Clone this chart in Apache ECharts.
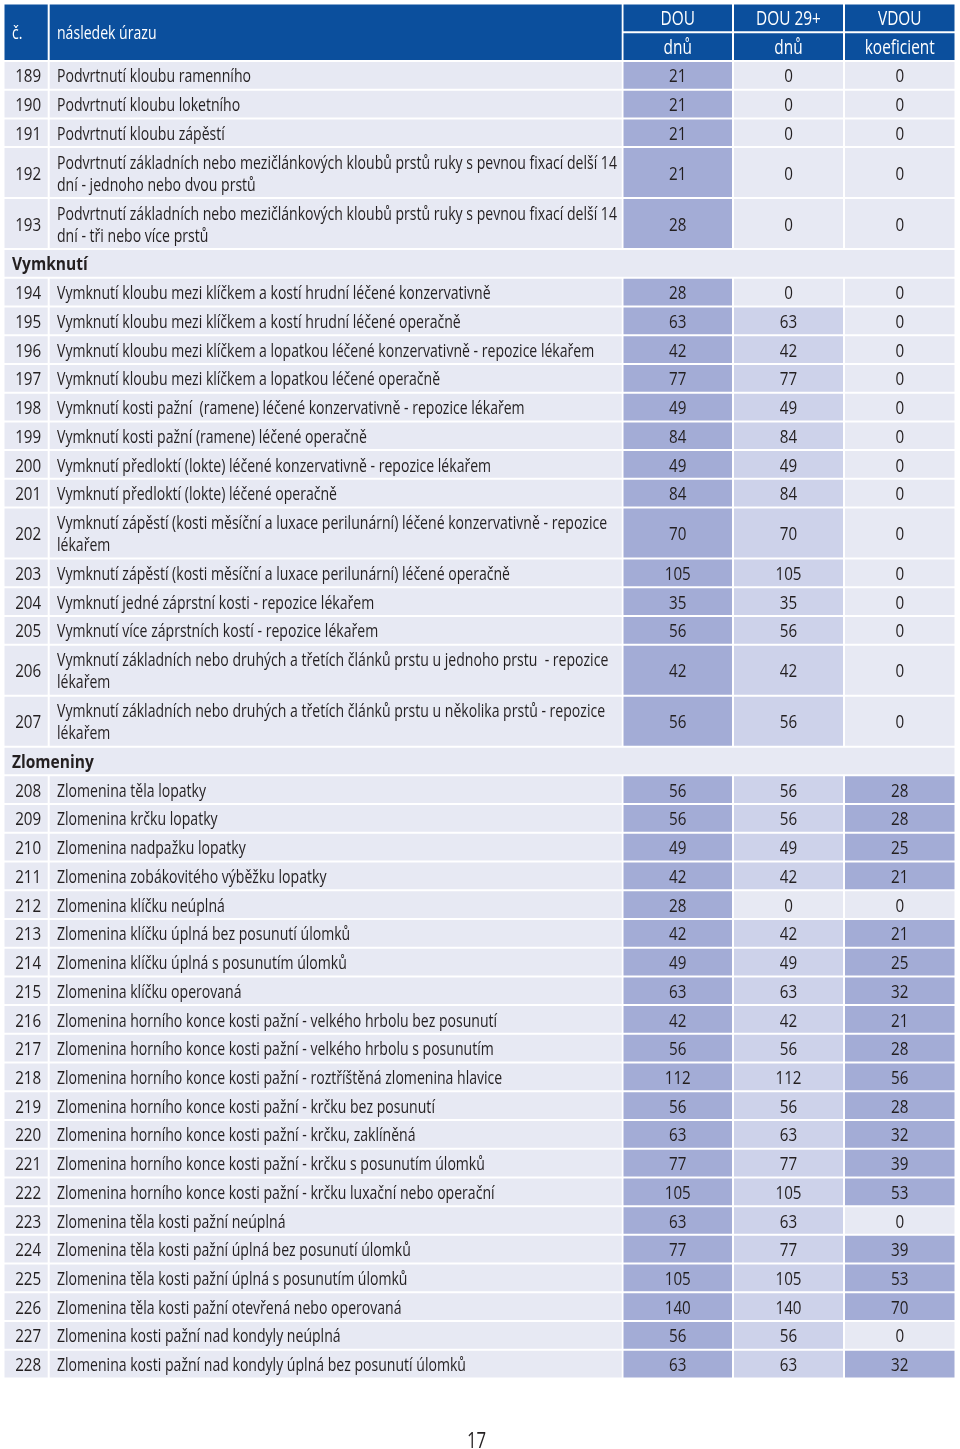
<!DOCTYPE html>
<html><head><meta charset="utf-8">
<script src="https://cdn.jsdelivr.net/npm/echarts@6/dist/echarts.min.js"></script>
<style>html,body{margin:0;padding:0;background:#fff}#c{width:960px;height:1449px}</style>
</head><body><div id="c"></div>
<script>
// ---------- data ----------
const headerLeft = ['č.', 'následek úrazu'];
const headerTop = ['DOU', 'DOU 29+', 'VDOU'];
const headerSub = ['dnů', 'dnů', 'koeficient'];
const sectionTitles = ['Vymknutí', 'Zlomeniny'];
const sectionStartCodes = [194, 208];
const codes = [189,190,191,192,193,194,195,196,197,198,199,200,201,202,203,204,205,206,207,208,209,210,211,212,213,214,215,216,217,218,219,220,221,222,223,224,225,226,227,228];
const injuries = [
  'Podvrtnutí kloubu ramenního',
  'Podvrtnutí kloubu loketního',
  'Podvrtnutí kloubu zápěstí',
  'Podvrtnutí základních nebo mezičlánkových kloubů prstů ruky s pevnou fixací delší 14\ndní - jednoho nebo dvou prstů',
  'Podvrtnutí základních nebo mezičlánkových kloubů prstů ruky s pevnou fixací delší 14\ndní - tři nebo více prstů',
  'Vymknutí kloubu mezi klíčkem a kostí hrudní léčené konzervativně',
  'Vymknutí kloubu mezi klíčkem a kostí hrudní léčené operačně',
  'Vymknutí kloubu mezi klíčkem a lopatkou léčené konzervativně - repozice lékařem',
  'Vymknutí kloubu mezi klíčkem a lopatkou léčené operačně',
  'Vymknutí kosti pažní  (ramene) léčené konzervativně - repozice lékařem',
  'Vymknutí kosti pažní (ramene) léčené operačně',
  'Vymknutí předloktí (lokte) léčené konzervativně - repozice lékařem',
  'Vymknutí předloktí (lokte) léčené operačně',
  'Vymknutí zápěstí (kosti měsíční a luxace perilunární) léčené konzervativně - repozice\nlékařem',
  'Vymknutí zápěstí (kosti měsíční a luxace perilunární) léčené operačně',
  'Vymknutí jedné záprstní kosti - repozice lékařem',
  'Vymknutí více záprstních kostí - repozice lékařem',
  'Vymknutí základních nebo druhých a třetích článků prstu u jednoho prstu  - repozice\nlékařem',
  'Vymknutí základních nebo druhých a třetích článků prstu u několika prstů - repozice\nlékařem',
  'Zlomenina těla lopatky',
  'Zlomenina krčku lopatky',
  'Zlomenina nadpažku lopatky',
  'Zlomenina zobákovitého výběžku lopatky',
  'Zlomenina klíčku neúplná',
  'Zlomenina klíčku úplná bez posunutí úlomků',
  'Zlomenina klíčku úplná s posunutím úlomků',
  'Zlomenina klíčku operovaná',
  'Zlomenina horního konce kosti pažní - velkého hrbolu bez posunutí',
  'Zlomenina horního konce kosti pažní - velkého hrbolu s posunutím',
  'Zlomenina horního konce kosti pažní - roztříštěná zlomenina hlavice',
  'Zlomenina horního konce kosti pažní - krčku bez posunutí',
  'Zlomenina horního konce kosti pažní - krčku, zaklíněná',
  'Zlomenina horního konce kosti pažní - krčku s posunutím úlomků',
  'Zlomenina horního konce kosti pažní - krčku luxační nebo operační',
  'Zlomenina těla kosti pažní neúplná',
  'Zlomenina těla kosti pažní úplná bez posunutí úlomků',
  'Zlomenina těla kosti pažní úplná s posunutím úlomků',
  'Zlomenina těla kosti pažní otevřená nebo operovaná',
  'Zlomenina kosti pažní nad kondyly neúplná',
  'Zlomenina kosti pažní nad kondyly úplná bez posunutí úlomků'
];
const douDays   = [21,21,21,21,28,28,63,42,77,49,84,49,84,70,105,35,56,42,56,56,56,49,42,28,42,49,63,42,56,112,56,63,77,105,63,77,105,140,56,63];
const dou29Days = [0,0,0,0,0,0,63,42,77,49,84,49,84,70,105,35,56,42,56,56,56,49,42,0,42,49,63,42,56,112,56,63,77,105,63,77,105,140,56,63];
const vdouCoef  = [0,0,0,0,0,0,0,0,0,0,0,0,0,0,0,0,0,0,0,28,28,25,21,0,21,25,32,21,28,56,28,32,39,53,0,39,53,70,0,32];
const pageNumber = '17';

// ---------- style / layout ----------
const FONT = "'Open Sans', 'Noto Sans', sans-serif";
const FS = 18.5, SX = 0.76, TEXT_DY = 1.8;
const BLUE = '#0b4f9d', LIGHT = '#e7e9f3', DARK = '#a3acd6', MID = '#cdd2ea', INK = '#231f20';
const COLS = [[4.5, 47.7], [49.7, 621.7], [623.5, 732], [734, 843], [845, 954.5]];
const ROW_PX = 28.72, DOUBLE = 1.775, GAP = 2, TOP = 4.5;

const cells = [];
function cell(col0, col1, y0, y1, opt) {
  cells.push(Object.assign({ x0: COLS[col0][0], x1: COLS[col1][1], y0, y1, color: INK, size: FS, sx: SX }, opt));
}
// header
cell(0, 0, 0, 2, { fill: BLUE, text: headerLeft[0], color: '#fff', align: 'left', pad: 7.5 });
cell(1, 1, 0, 2, { fill: BLUE, text: headerLeft[1], color: '#fff', align: 'left', pad: 7.3 });
for (let i = 0; i < 3; i++) {
  cell(2 + i, 2 + i, 0, 1, { fill: BLUE, text: headerTop[i], color: '#fff', align: 'center', size: 19.5, sx: 0.79 });
  cell(2 + i, 2 + i, 1, 2, { fill: BLUE, text: headerSub[i], color: '#fff', align: 'center', size: 19.5, sx: 0.79 });
}
let yy = 2;
codes.forEach((code, i) => {
  const s = sectionStartCodes.indexOf(code);
  if (s >= 0) {
    cell(0, 4, yy, yy + 1, { fill: LIGHT, text: sectionTitles[s], align: 'left', pad: 7.5, weight: 'bold', sx: 0.84 });
    yy += 1;
  }
  const h = injuries[i].indexOf('\n') >= 0 ? DOUBLE : 1;
  cell(0, 0, yy, yy + h, { fill: LIGHT, text: String(code), align: 'right', pad: 6.5, sx: 0.82 });
  cell(1, 1, yy, yy + h, { fill: LIGHT, text: injuries[i], align: 'left', pad: 7.3 });
  cell(2, 2, yy, yy + h, { fill: DARK, text: String(douDays[i]), align: 'center', sx: 0.82 });
  cell(3, 3, yy, yy + h, { fill: dou29Days[i] ? MID : LIGHT, text: String(dou29Days[i]), align: 'center', sx: 0.82 });
  cell(4, 4, yy, yy + h, { fill: vdouCoef[i] ? DARK : LIGHT, text: String(vdouCoef[i]), align: 'center', sx: 0.82 });
  yy += h;
});
const TOTAL = yy;

const chart = echarts.init(document.getElementById('c'), null, { renderer: 'canvas' });
chart.setOption({
  animation: false,
  backgroundColor: '#ffffff',
  grid: { left: 0, right: 0, top: TOP, height: TOTAL * ROW_PX },
  xAxis: { type: 'value', min: 0, max: 960, show: false },
  yAxis: { type: 'value', min: 0, max: TOTAL, inverse: true, show: false },
  graphic: [{
    type: 'text', x: 476.5, y: 1442.5, scaleX: 0.8,
    style: { text: pageNumber, x: 0, y: 0, align: 'center', verticalAlign: 'middle', fontSize: 21, fontFamily: FONT, fill: INK }
  }],
  series: [{
    type: 'custom',
    clip: false,
    data: cells.map(c => [c.x0, c.x1, c.y0, c.y1]),
    encode: { x: [0, 1], y: [2, 3] },
    renderItem(params, api) {
      const c = cells[params.dataIndex];
      const a = api.coord([api.value(0), api.value(2)]);
      const b = api.coord([api.value(1), api.value(3)]);
      const x = a[0], y = a[1], w = b[0] - a[0], h = b[1] - a[1] - GAP;
      const children = [{ type: 'rect', z2: 0, shape: { x, y, width: w, height: h }, style: { fill: c.fill } }];
      if (c.text != null) {
        const tx = c.align === 'left' ? x + c.pad : c.align === 'right' ? x + w - c.pad : x + w / 2;
        children.push({
          type: 'text', z2: 10, x: tx, y: y + h / 2 + TEXT_DY, scaleX: c.sx,
          style: {
            text: c.text, x: 0, y: 0, align: c.align, verticalAlign: 'middle',
            fill: c.color, fontSize: c.size, fontFamily: FONT, fontWeight: c.weight || 'normal', lineHeight: 22
          }
        });
      }
      return { type: 'group', children };
    }
  }]
});
</script>
</body></html>
